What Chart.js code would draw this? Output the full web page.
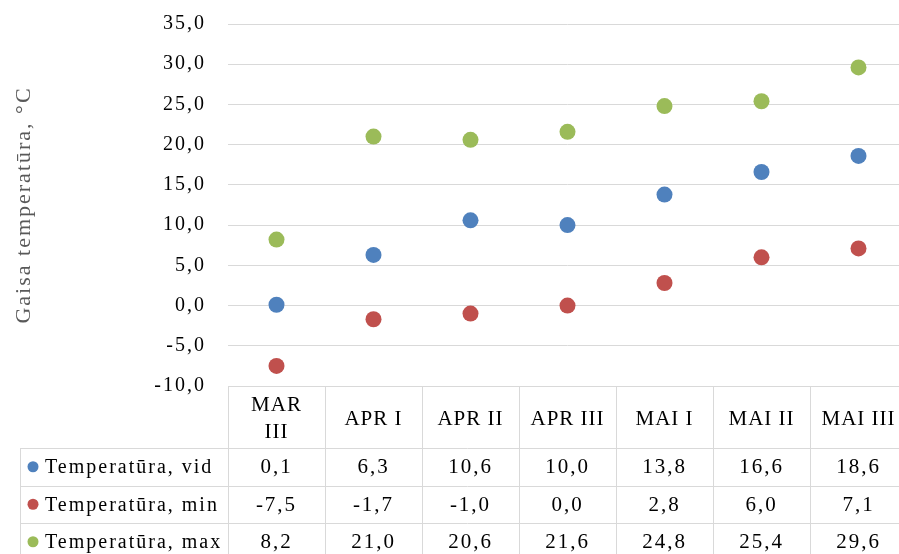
<!DOCTYPE html>
<html>
<head>
<meta charset="utf-8">
<script src="https://cdn.jsdelivr.net/npm/chart.js@4"></script>
<style>
  html, body { margin: 0; padding: 0; background: #fff; overflow: hidden; }
  #wrap { width: 915px; height: 554px; }
</style>
</head>
<body>
<div id="wrap"><canvas id="mycanvas" width="915" height="554"></canvas></div>
<script>
// dati
const categories = [['MAR', 'III'], 'APR I', 'APR II', 'APR III', 'MAI I', 'MAI II', 'MAI III'];
const seriesNames = ['Temperatūra, vid', 'Temperatūra, min', 'Temperatūra, max'];
const tempVid = [0.1, 6.3, 10.6, 10.0, 13.8, 16.6, 18.6];
const tempMin = [-7.5, -1.7, -1.0, 0.0, 2.8, 6.0, 7.1];
const tempMax = [8.2, 21.0, 20.6, 21.6, 24.8, 25.4, 29.6];
const yTicks = [-10, -5, 0, 5, 10, 15, 20, 25, 30, 35];

const colors = ['#4F81BD', '#C0504D', '#9BBB59'];
const serif = '"Liberation Serif", "Times New Roman", serif';
const fmt = v => v.toFixed(1).replace('.', ',');

// tabula zem grafika
const dataTable = {
  id: 'dataTable',
  beforeDraw(chart) {
    chart.ctx.letterSpacing = '2px';
  },
  afterDraw(chart) {
    const ctx = chart.ctx;
    const area = chart.chartArea;
    const x = chart.scales.x;
    const n = categories.length;
    const colW = (area.right - area.left) / n;
    const headTop = area.bottom;
    const headBot = headTop + 62;
    const rowH = 37.5;
    const labelLeft = 20;
    const bottom = chart.height;

    ctx.save();
    ctx.strokeStyle = '#d9d9d9';
    ctx.lineWidth = 1;
    ctx.beginPath();
    // horizontālās līnijas
    ctx.moveTo(area.left, headTop + 0.5); ctx.lineTo(chart.width, headTop + 0.5);
    for (let r = 0; r < 3; r++) {
      const y = Math.round(headBot + r * rowH) + 0.5;
      ctx.moveTo(labelLeft, y); ctx.lineTo(chart.width, y);
    }
    // vertikālās līnijas
    ctx.moveTo(labelLeft + 0.5, headBot); ctx.lineTo(labelLeft + 0.5, bottom);
    for (let k = 0; k <= n; k++) {
      const xx = Math.round(area.left + k * colW) + 0.5;
      ctx.moveTo(xx, headTop); ctx.lineTo(xx, bottom);
    }
    ctx.stroke();

    ctx.fillStyle = '#000';
    ctx.textAlign = 'center';
    ctx.textBaseline = 'middle';
    // galvene
    ctx.font = '21px ' + serif;
    ctx.letterSpacing = '1px';
    categories.forEach((c, i) => {
      const cx = x.getPixelForValue(i);
      const lines = Array.isArray(c) ? c : [c];
      const mid = (headTop + headBot) / 2 + 2;
      lines.forEach((t, j) => {
        ctx.fillText(t, cx, mid + (j - (lines.length - 1) / 2) * 27);
      });
    });

    // rindas
    const rows = [tempVid, tempMin, tempMax];
    ctx.font = '21px ' + serif;
    ctx.letterSpacing = '2px';
    rows.forEach((vals, r) => {
      const cy = headBot + r * rowH + rowH / 2 + 1;
      vals.forEach((v, i) => {
        ctx.fillText(fmt(v), x.getPixelForValue(i), cy);
      });
      // leģenda
      ctx.fillStyle = colors[r];
      ctx.beginPath();
      ctx.arc(33, cy - 1, 5.5, 0, Math.PI * 2);
      ctx.fill();
      ctx.fillStyle = '#000';
      ctx.textAlign = 'left';
      ctx.font = '20px ' + serif;
      ctx.fillText(seriesNames[r], 45, cy);
      ctx.textAlign = 'center';
      ctx.font = '21px ' + serif;
    });
    ctx.restore();
  }
};

const ctx = document.querySelector('#mycanvas').getContext('2d');
const myChart = new Chart(ctx, {
  type: 'line',
  data: {
    labels: categories,
    datasets: [tempVid, tempMin, tempMax].map((d, i) => ({
      label: seriesNames[i],
      data: d,
      showLine: false,
      pointRadius: 8,
      pointHoverRadius: 8,
      pointBorderWidth: 0,
      backgroundColor: colors[i],
      borderColor: colors[i]
    }))
  },
  options: {
    responsive: false,
    animation: false,
    layout: { padding: { top: 24, bottom: 168, left: 0, right: 1 } },
    plugins: { legend: { display: false }, tooltip: { enabled: false } },
    scales: {
      x: {
        type: 'category',
        offset: true,
        display: false
      },
      y: {
        min: yTicks[0],
        max: yTicks[yTicks.length - 1],
        afterFit: s => { s.width = 228; s.paddingTop = 10; },
        afterBuildTicks: s => { s.ticks = yTicks.map(v => ({ value: v })); },
        border: { display: false },
        grid: { color: '#d9d9d9', drawTicks: false, lineWidth: 1 },
        ticks: {
          padding: 22,
          color: '#000',
          font: { family: serif, size: 20 },
          callback: v => fmt(v)
        },
        title: {
          display: true,
          text: 'Gaisa temperatūra, °C',
          color: '#595959',
          font: { family: serif, size: 22 },
          padding: { top: 11, bottom: 0 }
        }
      }
    }
  },
  plugins: [dataTable]
});
</script>
</body>
</html>
